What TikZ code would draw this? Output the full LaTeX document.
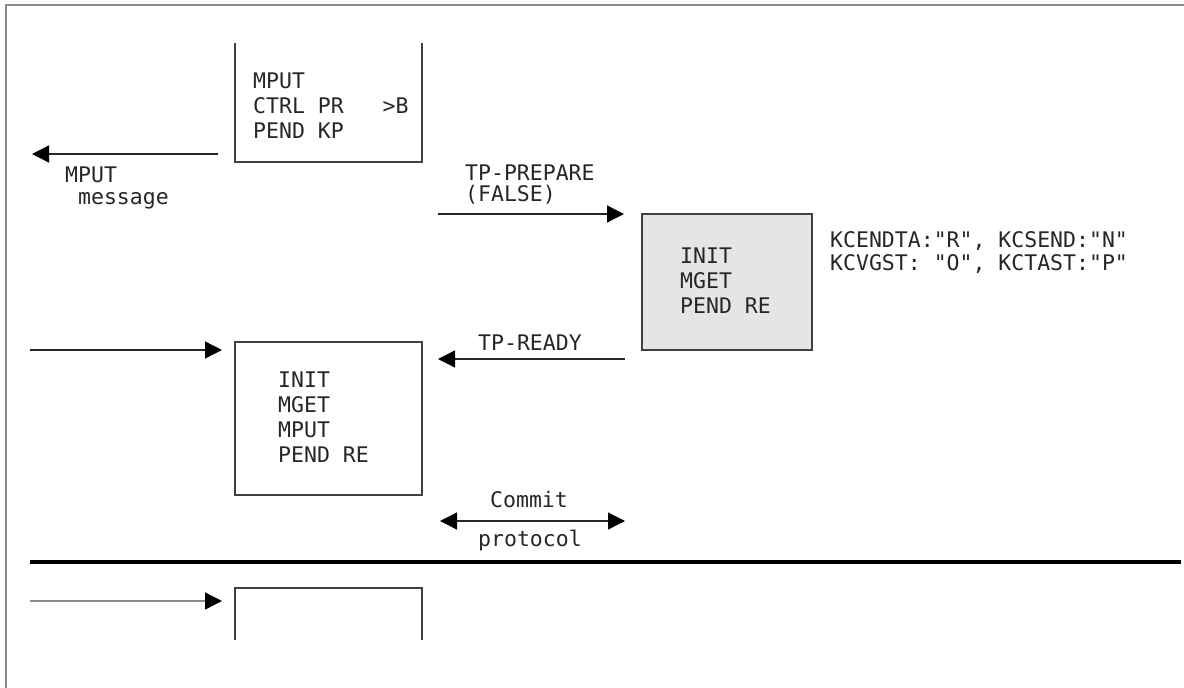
\documentclass[tikz,border=0pt]{standalone}
\usepackage{fontspec}
\newfontfamily\dmono{DejaVu Sans Mono}
\usetikzlibrary{arrows.meta}
\begin{document}
\begin{tikzpicture}[x=1pt,y=-1pt,
  txt/.style={anchor=north west, inner sep=0pt, align=left,
    font=\dmono\fontsize{21.5}{25}\selectfont, text=black!85},
  boxline/.style={draw=black!75, line width=1.3pt},
  conn/.style={draw=black!85, line width=1.3pt, -{Triangle[length=17pt,width=17pt,color=black]}},
  dconn/.style={draw=black!85, line width=1.3pt, {Triangle[length=17pt,width=17pt,color=black]}-{Triangle[length=17pt,width=17pt,color=black]}},
  shell/.style={minimum width=187pt, inner sep=0pt, outer sep=0pt}
]
\useasboundingbox (0,0) rectangle (1184,688);
% outer frame
\draw[black!45, line width=2pt] (6,688) -- (6,5) -- (1184,5);

% boxes
\node[shell, minimum height=119pt] (boxA) at (328.5,102.5) {};
\draw[boxline] (boxA.north west) -- (boxA.south west) -- (boxA.south east) -- (boxA.north east);
\node[boxline, fill=black!10, minimum width=170pt, minimum height=136pt, inner sep=0pt] (boxG) at (727,282) {};
\node[boxline, shell, minimum height=153pt] (boxB) at (328.5,418.5) {};
\node[shell, minimum height=52pt] (boxC) at (328.5,614) {};
\draw[boxline] (boxC.south west) -- (boxC.north west) -- (boxC.north east) -- (boxC.south east);

% box texts
\node[txt] (tA) at (253,70.5) {\strut MPUT\\CTRL PR~~~>B\\PEND KP};
\node[txt] (tG) at (680,245.5) {\strut INIT\\MGET\\PEND RE};
\node[txt] (tB) at (278,369.5) {\strut INIT\\MGET\\MPUT\\PEND RE};

% connector end points
\coordinate (m1) at (218,154);
\coordinate (m2) at (32,154);
\coordinate (p1) at (438,214);
\coordinate (p2) at (624,214);
\coordinate (r1) at (625,359);
\coordinate (r2) at (438,359);
\coordinate (i1) at (30,350);
\coordinate (i2) at (222,350);
\coordinate (c1) at (440,521);
\coordinate (c2) at (625,521);
\coordinate (h1) at (30,562);
\coordinate (h2) at (1181,562);
\coordinate (j1) at (30,601);
\coordinate (j2) at (222,601);

% connectors
\draw[conn] (m1) -- (m2);
\draw[conn] (p1) -- (p2);
\draw[conn] (r1) -- (r2);
\draw[conn] (i1) -- (i2);
\draw[dconn] (c1) -- (c2);
\draw[black, line width=4pt] (h1) -- (h2);
\draw[conn, draw=black!45] (j1) -- (j2);

% labels
\node[txt] (lM) at (65,164.5) {\strut MPUT\\[-3pt]~message};
\node[txt] (lP) at (465,162.5) {\strut TP-PREPARE\\[-4pt](FALSE)};
\node[txt] (lR) at (478,332.5) {\strut TP-READY};
\node[txt] (lK) at (830,229.5) {\strut KCENDTA:"R", KCSEND:"N"\\[-2pt]KCVGST: "O", KCTAST:"P"};
\node[txt] (lC) at (490,489.5) {\strut Commit};
\node[txt] (lO) at (478,528.5) {\strut protocol};
\end{tikzpicture}
\end{document}
